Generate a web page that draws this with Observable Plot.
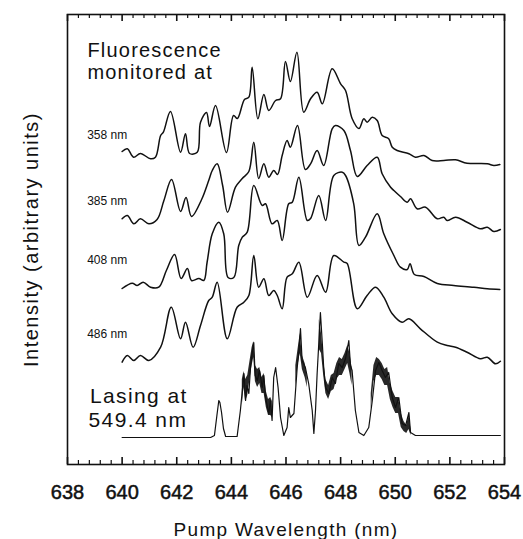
<!DOCTYPE html>
<html>
<head>
<meta charset="utf-8">
<script src="https://cdn.jsdelivr.net/npm/d3@7"></script>
<script src="https://cdn.jsdelivr.net/npm/@observablehq/plot@0.6"></script>
<style>
  body { margin: 0; background: #fff; }
</style>
</head>
<body>
<div id="chart"></div>
<script>
// ---- Data (pump wavelength in nm, intensity in arbitrary units above each trace's own baseline) ----
const fl358 = [[640.00,14],[640.19,16.7],[640.42,8.3],[640.67,12],[641.04,6.7],[641.22,8.3],[641.41,30],[641.51,33.3],[641.77,54],[642.14,13.3],[642.32,31.7],[642.47,12],[642.75,13.3],[642.87,43.3],[643.09,53],[643.20,39],[643.42,60],[643.82,13],[644.08,50],[644.22,47],[644.48,66],[644.64,68.3],[644.76,98.3],[644.97,46.7],[645.19,71],[645.37,55],[645.62,65],[645.80,66.7],[645.98,104],[646.16,84],[646.40,113.3],[646.65,53.3],[646.90,66.7],[647.14,73.3],[647.33,61.7],[647.69,96.7],[648.00,81.7],[648.18,75],[648.42,47],[648.67,37],[648.85,46.7],[648.97,43.3],[649.16,48.3],[649.34,45],[649.52,30],[649.76,26.7],[649.89,18.3],[650.07,15],[650.50,11.7],[650.74,8.3],[651.05,10],[651.35,5],[651.78,5],[652.21,5.7],[652.63,2.3],[653.37,1.7],[653.61,0],[653.83,1]];

const fl385 = [[640.00,12.7],[640.19,16],[640.43,7.7],[640.67,12.7],[640.98,7.7],[641.28,12],[641.53,31],[641.81,52],[642.14,20],[642.34,34],[642.54,15],[642.91,32],[643.17,51],[643.30,61],[643.48,67.7],[643.68,46],[643.86,19.3],[644.15,44.3],[644.40,53],[644.64,60],[644.82,89.3],[645.00,53],[645.19,67.7],[645.37,54.3],[645.55,61],[645.69,57],[645.86,76],[646.04,91],[646.16,84.3],[646.42,106],[646.71,62],[646.90,67.7],[647.14,81],[647.38,66],[647.69,102.7],[647.81,106],[648.12,101],[648.36,81],[648.61,55],[648.97,66],[649.34,74.3],[649.52,57.7],[649.83,44.3],[649.95,41],[650.19,35],[650.44,29.3],[650.56,32.7],[650.80,22.7],[651.11,24.3],[651.54,12.7],[651.78,14.3],[651.90,11],[652.21,14.3],[652.63,9.3],[653.12,2.7],[653.37,4.3],[653.61,0],[653.85,2]];

const fl408 = [[640.00,2],[640.37,7.3],[640.55,5],[640.77,8.3],[641.04,3.3],[641.34,3.3],[641.62,20],[641.92,36],[642.16,12],[642.39,22],[642.54,10],[642.81,12],[642.99,10],[643.11,28],[643.30,56.7],[643.54,68.3],[643.72,56.7],[643.88,13],[644.09,13],[644.27,45],[644.40,53.3],[644.58,58.3],[644.82,105],[645.13,85],[645.25,86.7],[645.49,66.7],[645.68,70],[645.86,50],[646.10,86.7],[646.23,88.3],[646.47,113.3],[646.78,70],[646.90,72],[647.20,95],[647.45,70],[647.75,115],[648.06,118.3],[648.18,115],[648.48,86.7],[648.67,45],[648.91,53.3],[649.34,76.7],[649.58,56.7],[649.95,35],[650.19,23.3],[650.44,21],[650.54,26.7],[650.70,16],[651.05,14],[651.54,7],[652.14,5],[652.88,3.3],[653.37,1.7],[653.83,1]];

const fl486 = [[640.00,2.3],[640.19,9],[640.43,4],[640.67,9],[640.98,4],[641.41,17.3],[641.80,57.3],[642.14,25.7],[642.32,42.3],[642.60,17.3],[642.87,39],[643.17,64],[643.30,67.3],[643.48,82.3],[643.85,25.7],[644.21,57.3],[644.46,62.3],[644.64,69],[644.82,109],[645.00,77.3],[645.19,85.7],[645.37,69],[645.55,74],[645.68,69],[645.86,55.7],[646.04,87.3],[646.23,90.7],[646.47,102.3],[646.78,67.3],[647.14,89],[647.45,72.3],[647.75,109],[648.12,102.3],[648.24,101],[648.61,55.7],[648.97,69],[649.28,77.3],[649.58,67.3],[649.89,50.7],[650.25,42.3],[650.50,45.7],[650.92,35.7],[651.54,22.3],[651.90,19],[652.21,17.3],[652.63,12.3],[653.12,5.7],[653.37,7.3],[653.67,0.7],[653.85,3.3]];

const lasing = [[640.00,0],[643.24,0],[643.38,2],[643.47,22],[643.54,37],[643.58,35],[643.64,25],[643.71,9],[643.79,1],[644.21,1],[644.33,27],[644.46,64],[644.52,37],[644.57,52],[644.64,44],[644.70,70],[644.76,84],[644.82,95],[644.87,62],[644.95,57],[645.03,67],[645.13,50],[645.19,62],[645.25,40],[645.37,24],[645.43,37],[645.49,17],[645.55,60],[645.62,70],[645.71,50],[645.80,20],[645.92,2],[646.04,10],[646.10,30],[646.16,20],[646.29,24],[646.41,70],[646.47,85],[646.53,109],[646.59,77],[646.71,70],[646.83,54],[646.96,27],[647.02,4],[647.08,27],[647.14,64],[647.20,94],[647.26,125],[647.33,94],[647.38,70],[647.45,50],[647.57,44],[647.69,60],[647.81,54],[647.93,74],[648.06,70],[648.18,79],[648.30,97],[648.36,72],[648.42,67],[648.54,27],[648.67,5],[648.85,2],[649.03,10],[649.16,37],[649.28,67],[649.40,75],[649.52,67],[649.64,60],[649.76,65],[649.89,40],[650.01,30],[650.13,40],[650.25,14],[650.38,12],[650.50,25],[650.56,5],[650.74,2],[653.85,2]];

// Read extent (low, high) of the noisy band of the lasing trace
const lasingNoise = [
  [[644.40,32,58],[644.46,50,66],[644.52,36,58],[644.60,42,62],[644.68,58,76],[644.76,72,90],[644.82,80,96],[644.88,56,72],[644.96,50,68],[645.04,54,70],[645.12,44,60],[645.20,44,64],[645.28,30,46],[645.36,22,38],[645.44,22,40],[645.50,20,36]],
  [[646.36,50,72],[646.44,72,88],[646.52,84,104],[646.60,68,82],[646.70,60,74],[646.78,50,62]],
  [[647.22,88,118],[647.30,84,104],[647.38,62,78],[647.46,44,58],[647.56,38,52],[647.66,46,62],[647.76,48,64],[647.86,58,74],[647.96,62,80],[648.06,62,78],[648.16,68,84],[648.26,74,92],[648.34,64,84],[648.42,52,70]],
  [[649.12,28,44],[649.22,56,72],[649.32,62,80],[649.42,62,78],[649.52,58,74],[649.62,52,68],[649.72,52,70],[649.82,38,54],[649.92,30,46],[650.02,24,40],[650.12,24,40],[650.22,10,24],[650.32,6,16],[650.42,4,12],[650.50,8,22],[650.58,2,8]]
];

// Vertical offsets of the stacked traces (arbitrary units)
const seriesNames   = ["358 nm", "385 nm", "408 nm", "486 nm"];
const seriesData    = [fl358, fl385, fl408, fl486];
const seriesOffsets = [299, 233, 174, 100];
const lasingOffset  = 27;

// Tick values
const majorTicks = [638, 640, 642, 644, 646, 648, 650, 652, 654];
const minorTicks = d3.range(0, 41).map(i => 638 + i * 0.4).filter(v => Math.abs(v - Math.round(v / 2) * 2) > 1e-6);

// Text
const titleLines = ["Fluorescence", "monitored at"];
const lasingLines = ["Lasing at", "549.4 nm"];
const xTitle = "Pump Wavelength (nm)";
const yTitle = "Intensity (arbitrary units)";

// ---- Build tables ----
const yMax = 450;
const flRows = seriesData.flatMap((d, i) => d.map(([x, v]) => ({series: seriesNames[i], x, y: v + seriesOffsets[i]})));
const lasRows = lasing.map(([x, v]) => ({x, y: v + lasingOffset}));
const noiseRows = lasingNoise.flatMap((seg, k) => seg.map(([x, lo, hi]) => ({seg: k, x, y1: lo + lasingOffset, y2: hi + lasingOffset})));
const seriesLabels = seriesNames.map((s, i) => ({text: s, x: 638.72, y: seriesOffsets[i] + 30}));
const titleRows = [{text: titleLines[0], x: 638.73, y: 413.7}, {text: titleLines[1], x: 638.73, y: 392}];
const lasingRowsText = [{text: lasingLines[0], x: 638.82, y: 68.7}, {text: lasingLines[1], x: 638.77, y: 44.2}];

const ink = "#111";
const chart = Plot.plot({
  width: 523,
  height: 539,
  marginTop: 14,
  marginBottom: 75,
  marginLeft: 67,
  marginRight: 19,
  style: {fontFamily: "'Liberation Sans', Arial, Helvetica, sans-serif", background: "#fff", color: ink},
  x: {domain: [638, 654]},
  y: {domain: [0, yMax], axis: null},
  marks: [
    Plot.frame({stroke: ink, strokeWidth: 1.6, fill: "none"}),
    // inward tick marks on bottom and top edges of the frame
    Plot.ruleX(minorTicks, {x: d => d, y1: 0, y2: 4, stroke: ink, strokeWidth: 1.2}),
    Plot.ruleX(majorTicks, {x: d => d, y1: 0, y2: 7, stroke: ink, strokeWidth: 1.6}),
    Plot.ruleX(minorTicks, {x: d => d, y1: yMax, y2: yMax - 4, stroke: ink, strokeWidth: 1.2}),
    Plot.ruleX(majorTicks, {x: d => d, y1: yMax, y2: yMax - 7, stroke: ink, strokeWidth: 1.6}),
    Plot.axisX({anchor: "bottom", ticks: majorTicks, tickSize: 0, tickPadding: 20, fontSize: 20, label: null, tickFormat: d => String(d)}),
    Plot.line(flRows, {x: "x", y: "y", z: "series", curve: "catmull-rom", stroke: ink, strokeWidth: 1.5}),
    Plot.areaY(noiseRows, {x: "x", y1: "y1", y2: "y2", z: "seg", fill: ink, fillOpacity: 0.9}),
    Plot.line(lasRows, {x: "x", y: "y", stroke: ink, strokeWidth: 1.2}),
    Plot.text(seriesLabels, {x: "x", y: "y", text: "text", textAnchor: "start", lineAnchor: "middle", fontSize: 12, fill: ink}),
    Plot.text(titleRows, {x: "x", y: "y", text: "text", textAnchor: "start", lineAnchor: "middle", fontSize: 20, fill: ink}),
    Plot.text(lasingRowsText, {x: "x", y: "y", text: "text", textAnchor: "start", lineAnchor: "middle", fontSize: 21, fill: ink}),
    Plot.text([xTitle], {frameAnchor: "bottom", dy: 65, textAnchor: "middle", lineAnchor: "middle", fontSize: 19, fill: ink}),
    Plot.text([yTitle], {frameAnchor: "left", dx: -36, rotate: -90, textAnchor: "middle", lineAnchor: "middle", fontSize: 20, fill: ink})
  ]
});

// widen the lettering of the larger labels to match the original typesetting; thicken tick numerals
const spacing = new Map([
  [titleLines[0], "1.2px"], [titleLines[1], "1.2px"],
  [lasingLines[0], "1.4px"], [lasingLines[1], "1.4px"],
  [xTitle, "1.3px"], [yTitle, "1.5px"]
]);
const tickText = new Set(majorTicks.map(String));
d3.select(chart).selectAll("text").each(function () {
  const t = this.textContent;
  const s = spacing.get(t);
  if (s) this.style.letterSpacing = s;
  if (tickText.has(t)) { this.style.stroke = ink; this.style.strokeWidth = "0.5px"; }
});
document.getElementById("chart").append(chart);
</script>
</body>
</html>
